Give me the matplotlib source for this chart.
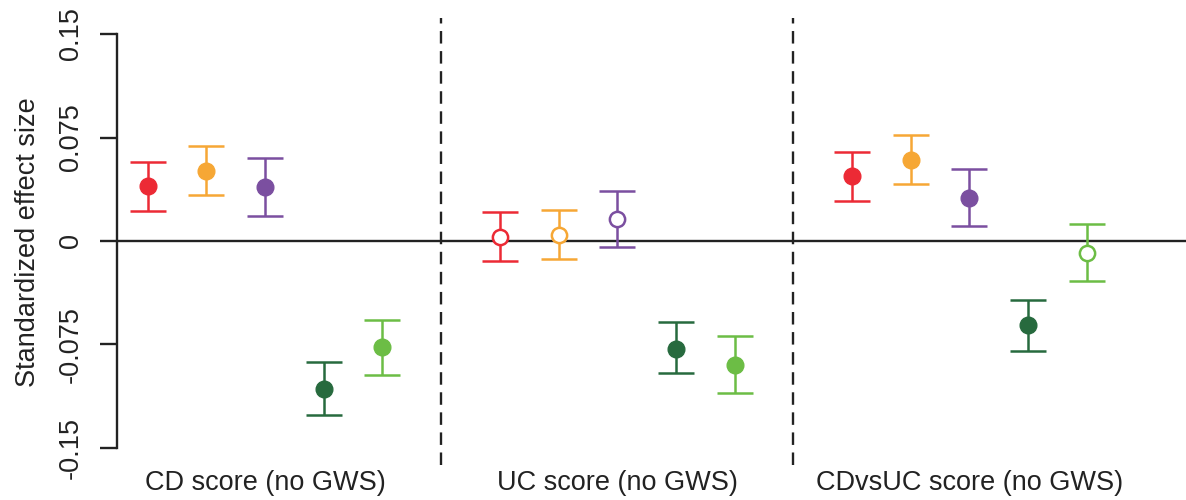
import numpy as np
import matplotlib
matplotlib.use("Agg")
import matplotlib.pyplot as plt
import matplotlib.transforms as mtransforms

plt.rcParams['font.family'] = ['Liberation Sans', 'DejaVu Sans']

# data
groups = ['CD score (no GWS)', 'UC score (no GWS)', 'CDvsUC score (no GWS)']
colors = ['#EC2A35', '#F6A735', '#7B4FA0', '#276A3E', '#6CBD45']

est = [[0.040, 0.051, 0.039, -0.107, -0.077],
       [0.003, 0.004, 0.016, -0.078, -0.090],
       [0.047, 0.059, 0.031, -0.061, -0.0085]]
lower = [[0.022, 0.033, 0.018, -0.126, -0.097],
         [-0.0145, -0.013, -0.0046, -0.096, -0.110],
         [0.029, 0.041, 0.011, -0.080, -0.029]]
upper = [[0.057, 0.069, 0.060, -0.088, -0.057],
         [0.021, 0.0225, 0.036, -0.059, -0.069],
         [0.0645, 0.077, 0.052, -0.0425, 0.012]]
filled = [[True, True, True, True, True],
          [False, False, False, True, True],
          [True, True, True, True, False]]

yticks = [-0.15, -0.075, 0, 0.075, 0.15]
ytick_labels = ['-0.15', '-0.075', '0', '0.075', '0.15']

W, H = 1186, 500
fig = plt.figure(figsize=(W / 100, H / 100), dpi=100)
ax = fig.add_axes([117 / W, 35.5 / H, (W - 117) / W, 447 / H])

ink = '#222222'
for g in range(len(groups)):
    for i in range(5):
        x = 6 * g + i + 1
        y = est[g][i]
        err = [[y - lower[g][i]], [upper[g][i] - y]]
        c = colors[i]
        ax.errorbar([x], [y], yerr=err, fmt='none', ecolor=c, elinewidth=1.8,
                    capsize=13, capthick=1.8, zorder=3)
        if filled[g][i]:
            ax.plot([x], [y], 'o', color=c, markersize=12, zorder=4)
        else:
            ax.plot([x], [y], 'o', markerfacecolor='white', markeredgecolor=c,
                    markeredgewidth=1.8, markersize=11, zorder=4)

ax.axhline(0, color=ink, lw=1.7, zorder=2)
for xd in [6, 12]:
    ax.axvline(xd, color=ink, lw=1.7, dashes=(5.3, 3.2), zorder=1)

ax.set_xlim(0.477, 18.69)
ax.set_ylim(-0.162, 0.162)

for s in ['top', 'right', 'bottom']:
    ax.spines[s].set_visible(False)
ax.spines['left'].set_bounds(-0.15, 0.15)
ax.spines['left'].set_linewidth(1.7)
ax.spines['left'].set_color(ink)

ax.set_xticks([])
ax.set_yticks(yticks)
ax.set_yticklabels(ytick_labels)
ax.tick_params(axis='y', length=12, width=1.7, color=ink, pad=12,
               labelsize=19.5, labelcolor=ink)
plt.setp(ax.get_yticklabels(), rotation=90, va='center')

trans = mtransforms.blended_transform_factory(ax.transData, ax.transAxes)
for g, name in enumerate(groups):
    ax.text(6 * g + 3, -0.041, name, transform=trans, ha='center', va='center',
            fontsize=19.5, color=ink)

fig.text(28 / W, 1 - 242 / H, 'Standardized effect size', rotation=90,
         ha='center', va='center', fontsize=19.5, color=ink)

fig.savefig('out.png', dpi=100)
